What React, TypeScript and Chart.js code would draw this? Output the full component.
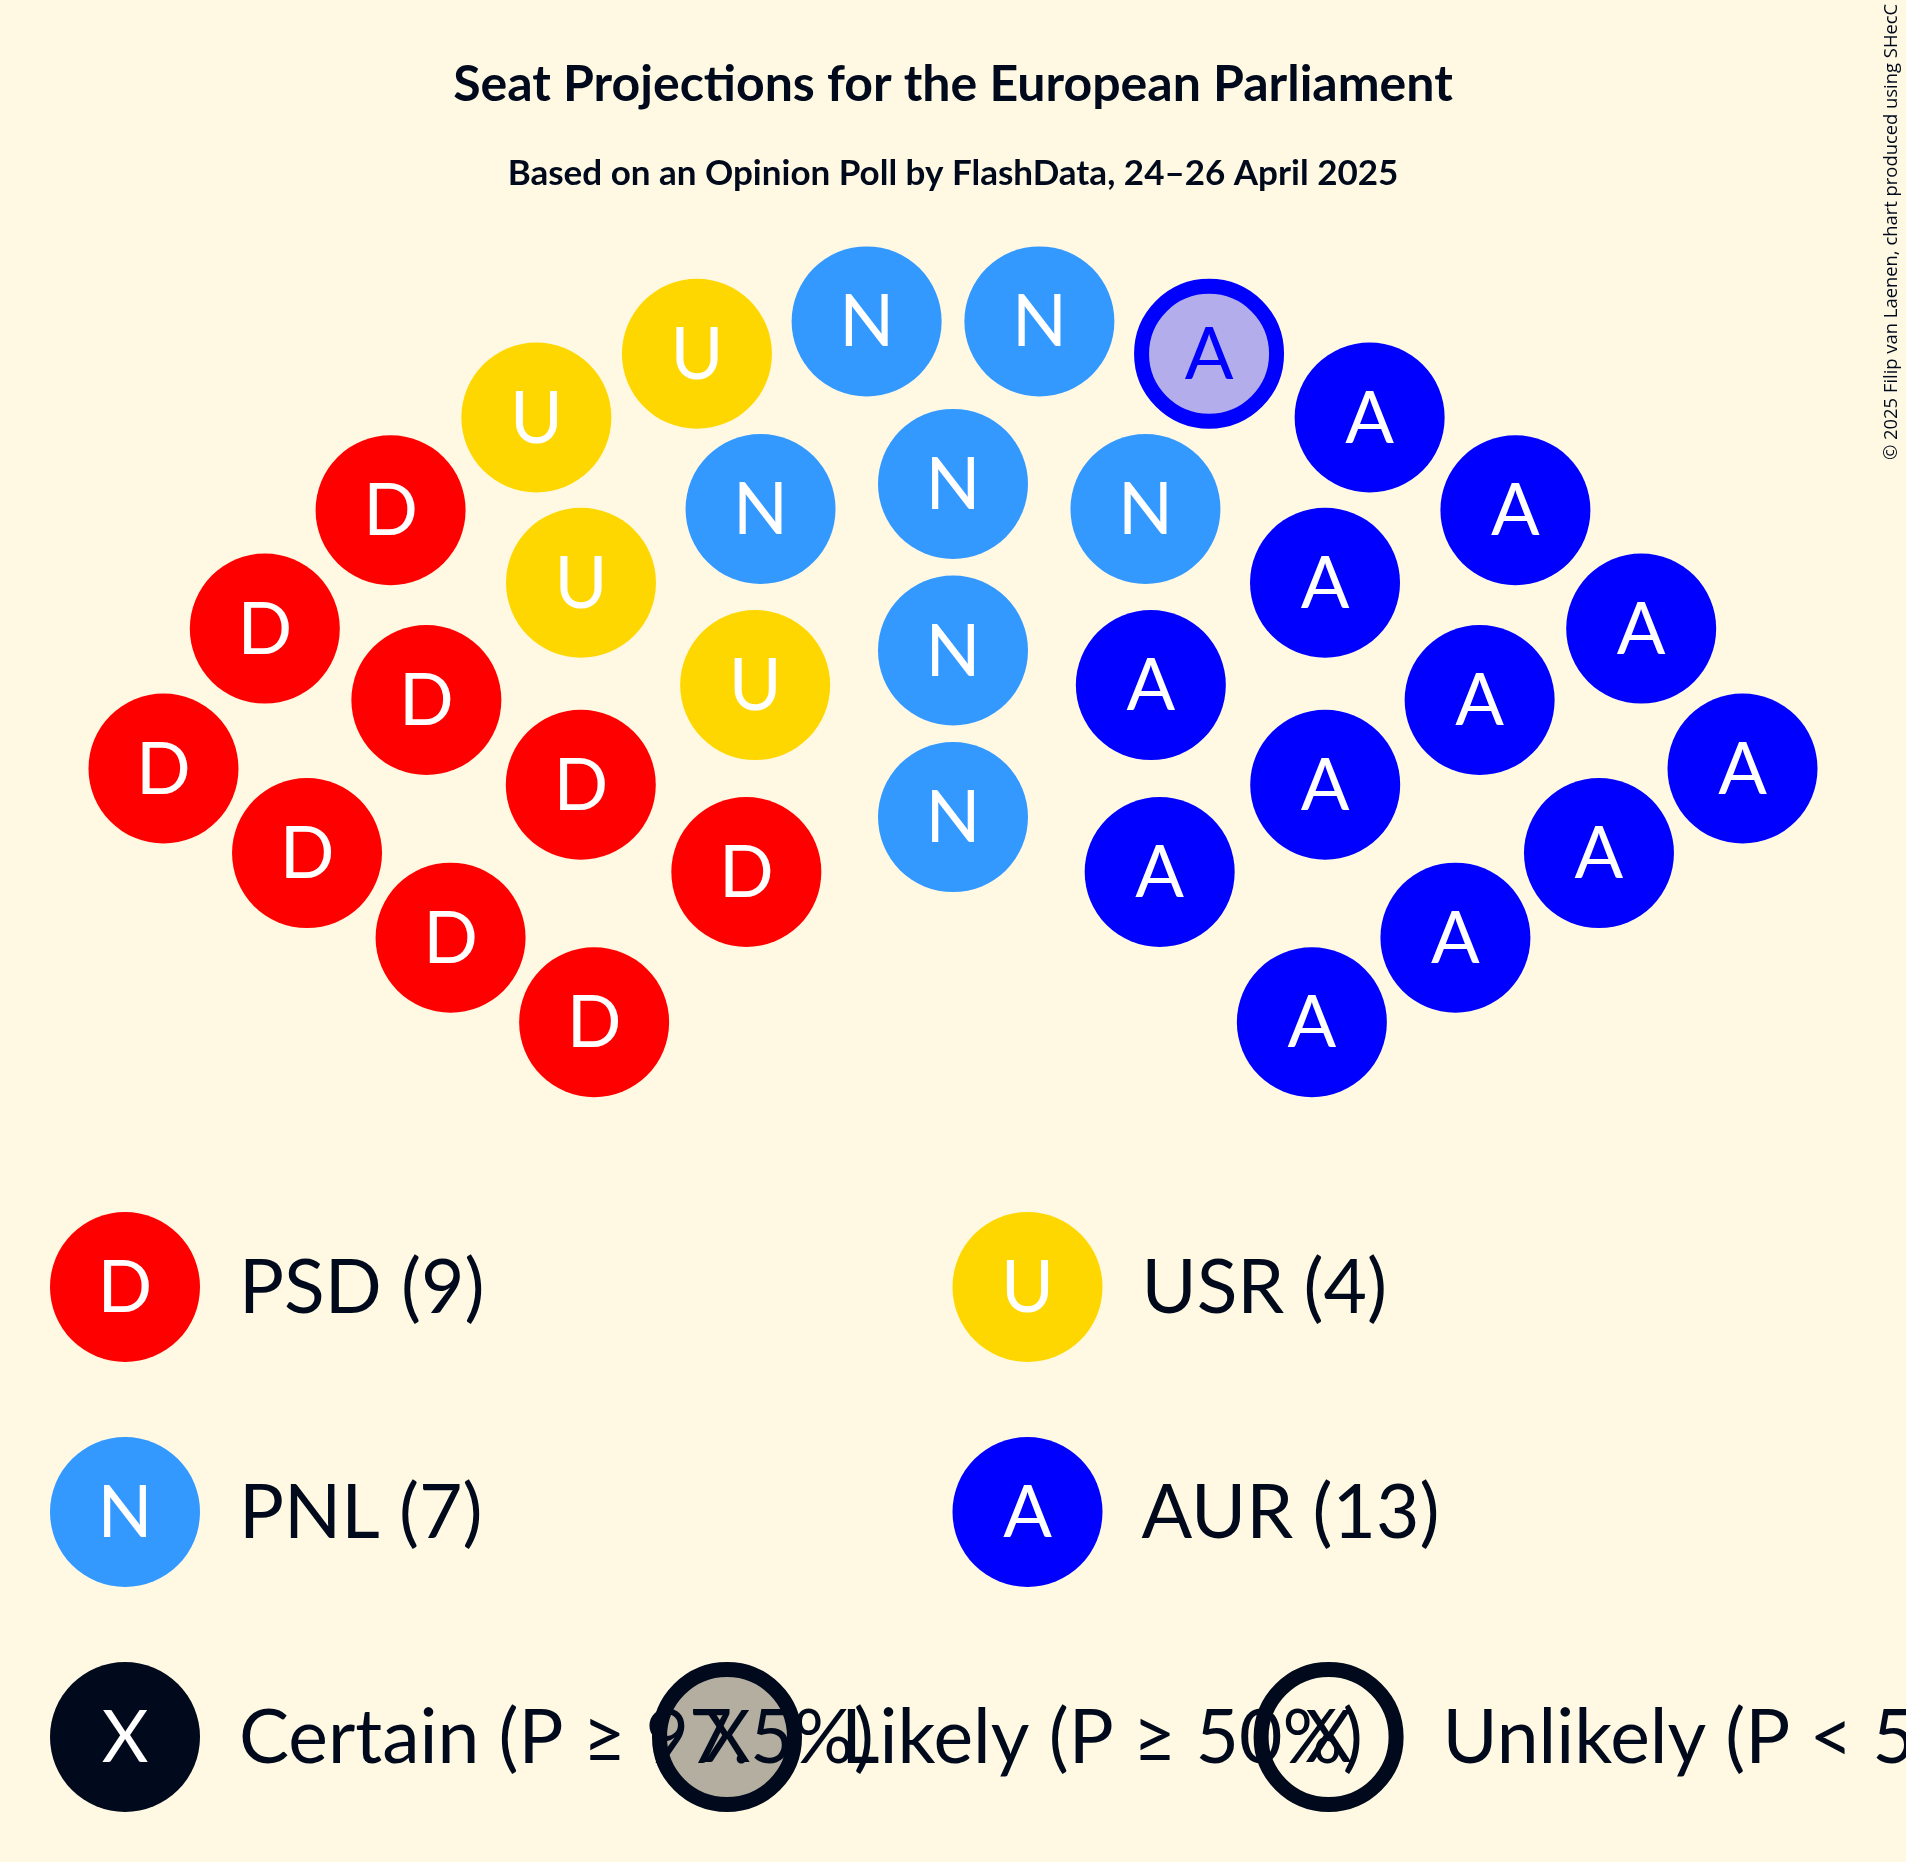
import React, { useEffect, useRef } from 'react';
import { Chart, registerables } from 'chart.js';

Chart.register(...registerables);

// ---------- data ----------
const parties = ['PSD', 'USR', 'PNL', 'AUR'];
const partyLetters = ['D', 'U', 'N', 'A'];
const partySeats = [9, 4, 7, 13];
const partyLikelySeats = [0, 0, 0, 1];
const partyColors = ['#FF0000', '#FFD700', '#3399FF', '#0000FF'];
const statusLabels = ['Certain (P ≥ 97.5%)', 'Likely (P ≥ 50%)', 'Unlikely (P < 50%)'];
const titleText = 'Seat Projections for the European Parliament';
const subtitleText = 'Based on an Opinion Poll by FlashData, 24–26 April 2025';
const copyrightText = '© 2025 Filip van Laenen, chart produced using SHecC';

// ---------- layout ----------
const W = 1906;
const H = 1862;
const BG = '#FFF9E3';
const INK = '#000A1C';
const ROW_SEATS = [5, 7, 9, 12];
const ROW_RADII = [2.5, 3.5, 4.5, 5.5];
const ANGLE_MIN = 30.5;
const UNIT = 166.6;
const CX = 953;
const CY = 1233.6;
const SEAT_R = 75;
const STROKE = 15;
const SEAT_FONT = '400 72px Lato';

function mix(hex: string, alpha: number, bg: string): string {
  const p = (h: string) => [1, 3, 5].map((i) => parseInt(h.slice(i, i + 2), 16));
  const a = p(hex);
  const b = p(bg);
  const c = a.map((v, i) => Math.round(v * alpha + b[i] * (1 - alpha)));
  return `rgb(${c[0]},${c[1]},${c[2]})`;
}

type Slot = { ang: number; r: number };

function buildSlots(): Slot[] {
  const slots: Slot[] = [];
  ROW_SEATS.forEach((n, i) => {
    for (let j = 0; j < n; j++) {
      const ang = 180 - ANGLE_MIN - (j * (180 - 2 * ANGLE_MIN)) / (n - 1);
      slots.push({ ang, r: ROW_RADII[i] });
    }
  });
  slots.sort((a, b) => {
    const d = Math.round((b.ang - a.ang) * 1e6);
    return d !== 0 ? d : a.r - b.r;
  });
  return slots;
}

export default function App() {
  const ref = useRef<HTMLCanvasElement | null>(null);

  useEffect(() => {
    const canvas = ref.current;
    if (!canvas) return;
    const slots = buildSlots();
    let k = 0;
    const datasets = parties.map((name, pi) => {
      const pts: { x: number; y: number; likely: boolean }[] = [];
      for (let s = 0; s < partySeats[pi]; s++) {
        const sl = slots[k++];
        const a = (sl.ang * Math.PI) / 180;
        pts.push({ x: sl.r * Math.cos(a), y: sl.r * Math.sin(a), likely: s < partyLikelySeats[pi] });
      }
      const col = partyColors[pi];
      const light = mix(col, 0.3, BG);
      return {
        label: name,
        data: pts,
        pointRadius: pts.map((p) => (p.likely ? SEAT_R - STROKE / 2 : SEAT_R)),
        pointBorderWidth: pts.map((p) => (p.likely ? STROKE : 0)),
        pointBackgroundColor: pts.map((p) => (p.likely ? light : col)),
        pointBorderColor: col,
        pointStyle: 'circle',
        showLine: false,
        clip: false,
      };
    });

    const overlay = {
      id: 'overlay',
      beforeDraw(chart: any) {
        const ctx = chart.ctx;
        ctx.save();
        ctx.fillStyle = BG;
        ctx.fillRect(0, 0, chart.width, chart.height);
        ctx.restore();
      },
      afterDatasetsDraw(chart: any) {
        const ctx: CanvasRenderingContext2D = chart.ctx;
        ctx.save();
        // seat letters
        ctx.textAlign = 'center';
        ctx.textBaseline = 'alphabetic';
        ctx.font = SEAT_FONT;
        chart.data.datasets.forEach((ds: any, di: number) => {
          const meta = chart.getDatasetMeta(di);
          meta.data.forEach((el: any, i: number) => {
            const likely = ds.data[i].likely;
            ctx.fillStyle = likely ? partyColors[di] : '#FFFFFF';
            ctx.fillText(partyLetters[di], el.x, el.y + 25);
          });
        });

        // title & subtitle
        ctx.fillStyle = INK;
        ctx.font = 'bold 50px Lato';
        ctx.fillText(titleText, W / 2, 101);
        ctx.font = 'bold 35px Lato';
        ctx.fillText(subtitleText, W / 2, 185);

        // copyright
        ctx.save();
        ctx.translate(1896.5, 460);
        ctx.rotate(-Math.PI / 2);
        ctx.textAlign = 'left';
        ctx.font = '18.4px "Open Sans"';
        ctx.fillText(copyrightText, 0, 0);
        ctx.restore();

        // legend: parties
        const colX = [125, 1027.5];
        const rowY = [1287, 1512];
        const textOff = 114;
        const drawCircle = (x: number, y: number, fill: string | null, stroke: string | null) => {
          ctx.beginPath();
          if (stroke) {
            ctx.arc(x, y, SEAT_R - STROKE / 2, 0, Math.PI * 2);
            if (fill) {
              ctx.fillStyle = fill;
              ctx.fill();
            }
            ctx.lineWidth = STROKE;
            ctx.strokeStyle = stroke;
            ctx.stroke();
          } else if (fill) {
            ctx.arc(x, y, SEAT_R, 0, Math.PI * 2);
            ctx.fillStyle = fill;
            ctx.fill();
          }
        };
        parties.forEach((name, pi) => {
          const x = colX[pi % 2];
          const y = rowY[Math.floor(pi / 2)];
          drawCircle(x, y, partyColors[pi], null);
          ctx.textAlign = 'center';
          ctx.font = SEAT_FONT;
          ctx.fillStyle = '#FFFFFF';
          ctx.fillText(partyLetters[pi], x, y + 25);
          ctx.textAlign = 'left';
          ctx.font = '75px Lato';
          ctx.fillStyle = INK;
          ctx.fillText(`${name} (${partySeats[pi]})`, x + textOff, y + 26);
        });

        // legend: status
        const sx = [125, 727, 1328.6];
        const sy = 1737;
        drawCircle(sx[0], sy, INK, null);
        drawCircle(sx[1], sy, mix('#000000', 0.3, BG), INK);
        drawCircle(sx[2], sy, null, INK);
        statusLabels.forEach((lab, i) => {
          ctx.textAlign = 'center';
          ctx.font = SEAT_FONT;
          ctx.fillStyle = i === 0 ? '#FFFFFF' : INK;
          ctx.fillText('X', sx[i], sy + 25);
        });
        statusLabels.forEach((lab, i) => {
          ctx.textAlign = 'left';
          ctx.font = '75px Lato';
          ctx.fillStyle = INK;
          ctx.fillText(lab, sx[i] + textOff, sy + 26);
        });
        ctx.restore();
      },
    };

    const chart = new Chart(canvas, {
      type: 'scatter',
      data: { datasets: datasets as any },
      options: {
        animation: false,
        responsive: false,
        devicePixelRatio: 1,
        events: [],
        layout: { padding: 0, autoPadding: false },
        plugins: { legend: { display: false }, tooltip: { enabled: false }, title: { display: false } },
        scales: {
          x: { type: 'linear', display: false, min: -CX / UNIT, max: (W - CX) / UNIT },
          y: { type: 'linear', display: false, min: -(H - CY) / UNIT, max: CY / UNIT },
        },
      },
      plugins: [overlay],
    });
    return () => chart.destroy();
  }, []);

  return (
    <canvas
      ref={ref}
      width={W}
      height={H}
      style={{ position: 'absolute', left: 0, top: 0, width: W, height: H, display: 'block' }}
    />
  );
}
